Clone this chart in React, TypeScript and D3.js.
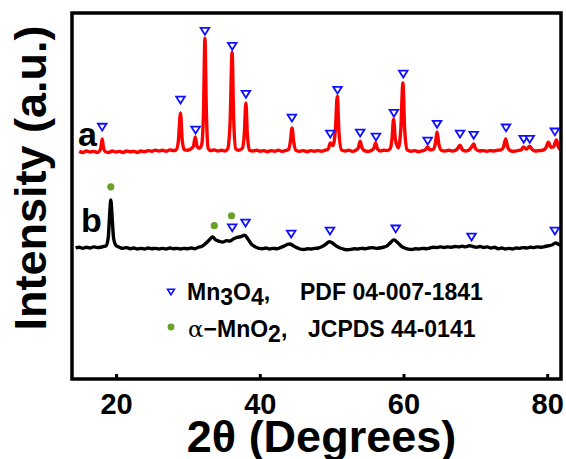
import React from "react";
import * as d3 from "d3";

// XRD patterns, 2θ in degrees, intensity relative to each pattern's own baseline (a.u.)
const patternA: [number, number][] = [
  [14.8, 2], [15.3, -1], [15.8, 3], [16.3, 0], [16.8, 2], [17.3, -1], [17.65, 3], [17.85, 16], [18.0, 36], [18.15, 16],
  [18.4, 2], [18.9, -1], [19.4, 3], [19.9, 0], [20.4, 2], [20.9, -1], [21.4, 3], [21.9, 1], [22.4, 2], [22.9, -1],
  [23.4, 3], [23.9, 1], [24.4, 4], [24.9, 2], [25.4, 5], [25.9, 3], [26.4, 5], [26.9, 2], [27.4, 6], [27.9, 4],
  [28.3, 6], [28.6, 30], [28.9, 107], [29.15, 30], [29.45, 6], [29.9, 5], [30.3, 8], [30.7, 16], [30.95, 41], [31.2, 16],
  [31.5, 10], [31.85, 20], [32.1, 110], [32.3, 311], [32.5, 110], [32.75, 10], [33.1, 4], [33.6, 6], [34.1, 3], [34.6, 5],
  [35.1, 3], [35.45, 8], [35.8, 80], [36.08, 273], [36.3, 90], [36.6, 8], [37.0, 5], [37.5, 10], [37.78, 50], [38.0, 134],
  [38.2, 50], [38.5, 5], [39.0, 3], [39.5, 5], [40.0, 2], [40.5, 4], [41.0, 1], [41.5, 4], [42.0, 2], [42.5, 5],
  [43.0, 2], [43.5, 4], [43.95, 8], [44.2, 30], [44.42, 66], [44.65, 28], [44.95, 5], [45.5, 2], [46.0, 4], [46.5, 1],
  [47.0, 4], [47.5, 2], [48.0, 4], [48.5, 2], [49.0, 5], [49.45, 8], [49.75, 25], [50.1, 18], [50.45, 60], [50.72, 153],
  [50.95, 55], [51.3, 6], [51.8, 3], [52.3, 5], [52.8, 2], [53.3, 5], [53.65, 12], [53.9, 30], [54.15, 12], [54.5, 4],
  [55.0, 2], [55.5, 5], [55.8, 10], [56.05, 25], [56.3, 9], [56.7, 3], [57.2, 5], [57.7, 4], [58.1, 10], [58.35, 40],
  [58.55, 90], [58.8, 35], [59.2, 12], [59.55, 60], [59.85, 189], [60.1, 60], [60.45, 6], [61.0, 2], [61.5, 4], [62.0, 1],
  [62.5, 3], [63.0, 7], [63.3, 14], [63.6, 6], [64.1, 8], [64.38, 25], [64.6, 55], [64.85, 22], [65.2, 5], [65.7, 3],
  [66.2, 5], [66.7, 3], [67.2, 5], [67.5, 11], [67.8, 19], [68.1, 7], [68.5, 3], [69.0, 5], [69.4, 14], [69.7, 22],
  [70.0, 8], [70.5, 3], [71.0, 4], [71.5, 2], [72.0, 4], [72.5, 3], [73.0, 5], [73.5, 6], [73.85, 14], [74.15, 36],
  [74.45, 12], [74.8, 4], [75.3, 2], [75.8, 4], [76.3, 6], [76.65, 14], [77.05, 8], [77.5, 16], [77.85, 7], [78.3, 3],
  [78.8, 4], [79.3, 5], [79.7, 10], [80.1, 27], [80.45, 13], [80.8, 14], [81.2, 33], [81.5, 14], [81.85, 6],
];

const patternB: [number, number][] = [
  [14.3, 0], [14.8, 2], [15.3, -1], [15.8, 2], [16.3, 0], [16.8, 3], [17.3, 1], [17.8, 2], [18.2, 4], [18.55, 6],
  [18.85, 30], [19.05, 95], [19.2, 131], [19.38, 85], [19.6, 25], [19.95, 6], [20.4, 2], [20.9, -1], [21.4, 1], [21.9, -2],
  [22.4, 0], [22.9, -3], [23.4, -1], [23.9, -3], [24.4, 0], [24.9, -2], [25.4, -1], [25.9, -3], [26.4, -1], [26.9, -3],
  [27.4, 0], [27.9, -2], [28.4, -1], [28.9, -3], [29.4, -1], [29.9, -2], [30.4, 0], [30.9, -2], [31.4, 2], [31.9, 5],
  [32.4, 12], [32.9, 22], [33.35, 30], [33.8, 22], [34.3, 18], [34.8, 16], [35.3, 20], [35.8, 19], [36.3, 25], [36.8, 29],
  [37.3, 31], [37.8, 35], [38.3, 24], [38.8, 10], [39.3, 3], [39.8, -1], [40.3, -2], [40.8, 0], [41.3, -3], [41.8, -1],
  [42.3, -2], [42.8, 1], [43.3, 5], [43.8, 10], [44.1, 11], [44.6, 6], [45.1, 1], [45.6, -3], [46.1, -4], [46.6, -2],
  [47.1, -3], [47.6, -1], [48.1, 0], [48.6, 4], [49.1, 10], [49.6, 17], [50.1, 13], [50.6, 5], [51.1, 0], [51.6, -3],
  [52.1, -5], [52.6, -4], [53.1, -2], [53.6, -3], [54.1, -1], [54.6, -2], [55.1, 0], [55.6, 1], [56.1, -1], [56.6, 0],
  [57.1, 2], [57.6, 5], [58.1, 14], [58.6, 22], [59.1, 15], [59.6, 5], [60.1, 0], [60.6, -3], [61.1, -4], [61.6, -2],
  [62.1, -3], [62.6, -1], [63.1, -2], [63.6, 0], [64.1, 2], [64.6, 1], [65.1, 3], [65.6, 1], [66.1, 3], [66.6, 2],
  [67.1, 4], [67.6, 3], [68.1, 5], [68.6, 3], [69.1, 6], [69.6, 4], [70.1, 2], [70.6, 4], [71.1, 1], [71.6, 3],
  [72.1, 0], [72.6, 2], [73.1, -2], [73.6, 0], [74.1, -3], [74.6, -1], [75.1, -3], [75.6, 0], [76.1, -1], [76.6, 1],
  [77.1, 0], [77.6, 2], [78.1, 1], [78.6, 3], [79.1, 2], [79.6, 4], [80.1, 6], [80.6, 8], [81.1, 14], [81.5, 10],
  [81.85, 6],
];

// reflection markers: [2θ, level above baseline]
const mn3o4A: [number, number][] = [
  [18.0, 68], [28.9, 142], [31.0, 60], [32.3, 330], [36.1, 289], [38.0, 158], [44.4, 93], [49.75, 49], [50.75, 169],
  [53.9, 52], [56.1, 41], [58.6, 106], [59.9, 213], [63.3, 30], [64.6, 76], [67.8, 49], [69.7, 46], [74.2, 66],
  [76.66, 35], [77.5, 35], [81.0, 55],
];
const mn3o4B: [number, number][] = [
  [36.1, 55], [37.95, 68], [44.3, 38], [49.7, 46], [58.85, 52], [69.4, 30], [81.0, 46],
];
const mno2B: [number, number][] = [[19.2, 167], [33.6, 61], [36.0, 88]];

const xTicks = [20, 40, 60, 80];
const offsetA = 620;
const offsetB = 358;

const W = 566;
const H = 459;
const left = 72, right = 561, top = 13, bottom = 379;
const font = "Arial, 'Liberation Sans', Helvetica, sans-serif";
const BLUE = "#1010ff";
const GREEN = "#69a12a";

const x = d3.scaleLinear().domain([13.8, 81.85]).range([left, right]);
const y = d3.scaleLinear().domain([0, 1000]).range([bottom, top]);

const lineFor = (offset: number) =>
  d3
    .line<[number, number]>()
    .x(d => x(d[0]))
    .y(d => y(d[1] + offset))
    .curve(d3.curveMonotoneX);

function tri(cx: number, cy: number, s: number) {
  return `M${cx - s},${cy - s * 0.8}L${cx + s},${cy - s * 0.8}L${cx},${cy + s * 0.8}Z`;
}

export default function App() {
  return (
    <svg width={W} height={H} style={{ position: "absolute", left: 0, top: 0, background: "#fff" }} fontFamily={font}>
      <defs>
        <clipPath id="plot">
          <rect x={left} y={top} width={right - left} height={bottom - top} />
        </clipPath>
      </defs>

      {/* patterns */}
      <g clipPath="url(#plot)" fill="none" strokeLinejoin="round">
        <path d={lineFor(offsetB)(patternB) || ""} stroke="#000" strokeWidth={3.4} />
        <path d={lineFor(offsetA)(patternA) || ""} stroke="#ff0000" strokeWidth={3.4} />
      </g>

      {/* markers */}
      {mn3o4A.map((m, i) => (
        <path key={"ta" + i} d={tri(x(m[0]), y(m[1] + offsetA), 4.3)} fill="#fff" stroke={BLUE} strokeWidth={1.8} />
      ))}
      {mn3o4B.map((m, i) => (
        <path key={"tb" + i} d={tri(x(m[0]), y(m[1] + offsetB), 4.3)} fill="#fff" stroke={BLUE} strokeWidth={1.8} />
      ))}
      {mno2B.map((m, i) => (
        <circle key={"d" + i} cx={x(m[0])} cy={y(m[1] + offsetB)} r={3.6} fill={GREEN} />
      ))}

      {/* pattern labels */}
      <text x={78} y={146} fontSize={34} fontWeight="bold">a</text>
      <text x={81} y={232} fontSize={34} fontWeight="bold">b</text>

      {/* legend */}
      <path d={tri(171, 292, 3.4)} fill="#fff" stroke={BLUE} strokeWidth={1.6} />
      <text x={187} y={300} fontSize={23} fontWeight="bold">
        Mn<tspan dy={5}>3</tspan><tspan dy={-5}>O</tspan><tspan dy={5}>4</tspan><tspan dy={-5}>,</tspan>
      </text>
      <text x={300} y={300} fontSize={23} fontWeight="bold">PDF 04-007-1841</text>
      <circle cx={171} cy={327} r={3.4} fill={GREEN} />
      <text x={188} y={337} fontSize={23} fontWeight="bold">
        <tspan fontWeight="normal" fontFamily="'DejaVu Serif', serif">α</tspan>
        <tspan>−MnO</tspan><tspan dy={5}>2</tspan><tspan dy={-5}>,</tspan>
      </text>
      <text x={308} y={337} fontSize={23} fontWeight="bold">JCPDS 44-0141</text>

      {/* frame and ticks */}
      <rect x={left} y={top} width={right - left} height={bottom - top} fill="none" stroke="#000" strokeWidth={3.5} />
      {xTicks.map(t => (
        <g key={t}>
          <line x1={x(t)} x2={x(t)} y1={bottom} y2={bottom - 5} stroke="#000" strokeWidth={3} />
          <text x={x(t)} y={414} textAnchor="middle" fontSize={29} fontWeight="bold">{t}</text>
        </g>
      ))}

      {/* axis titles */}
      <text x={(left + right) / 2 + 5} y={452} textAnchor="middle" fontSize={45} fontWeight="bold">2θ (Degrees)</text>
      <text transform="translate(46,178) rotate(-90)" textAnchor="middle" fontSize={45} fontWeight="bold">Intensity (a.u.)</text>
    </svg>
  );
}
